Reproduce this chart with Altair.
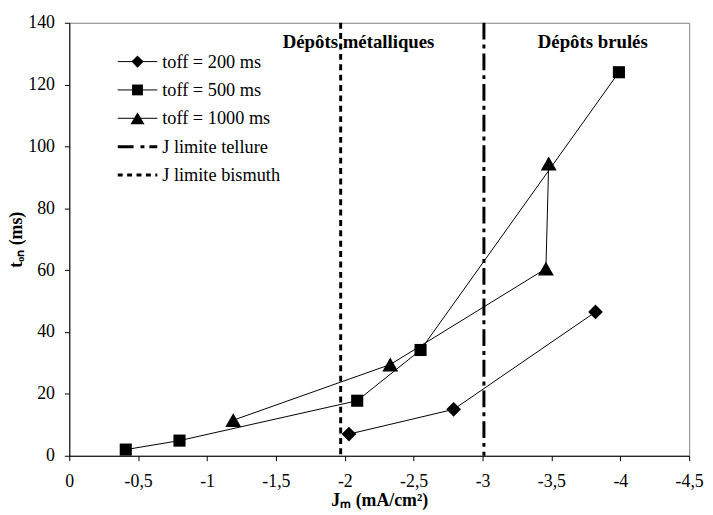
import altair as alt
import pandas as pd

# ---- data ----
series_labels = ["toff = 200 ms", "toff = 500 ms", "toff = 1000 ms"]
limit_labels = ["J limite tellure", "J limite bismuth"]

x_200 = [-2.03, -2.79, -3.82]
y_200 = [7.0, 15.0, 46.5]
x_500 = [-0.41, -0.80, -2.09, -2.55, -3.99]
y_500 = [2.0, 4.9, 17.8, 34.2, 124.0]
x_1000 = [-1.19, -2.33, -3.46, -3.48]
y_1000 = [11.5, 29.5, 60.5, 94.5]

j_tellure = -3.01
j_bismuth = -1.97

zone_labels = ["Dépôts métalliques", "Dépôts brulés"]
zone_x = [-2.10, -3.80]
zone_y = [133.8, 133.8]

x_ticks = [0, -0.5, -1, -1.5, -2, -2.5, -3, -3.5, -4, -4.5]
y_ticks = [0, 20, 40, 60, 80, 100, 120, 140]

# ---- tables ----
rows = []
for lab, xs, ys in zip(series_labels, [x_200, x_500, x_1000], [y_200, y_500, y_1000]):
    for i, (xv, yv) in enumerate(zip(xs, ys)):
        rows.append({"series": lab, "x": xv, "y": yv, "idx": i})
df = pd.DataFrame(rows)

df_zone = pd.DataFrame({"label": zone_labels, "x": zone_x, "y": zone_y})
legend_labels = series_labels + limit_labels
df_leg = pd.DataFrame({"label": legend_labels})
df_leg_series = pd.DataFrame({"label": series_labels})
df_leg_limits = pd.DataFrame({"label": limit_labels})

FONT = "Liberation Serif, Times New Roman, serif"
shapes = ["diamond", "square", "triangle-up"]
plot_sizes = [220, 150, 260]
leg_sizes = [150, 120, 200]

xscale = alt.Scale(domain=[0, -4.5], nice=False, zero=False)
yscale = alt.Scale(domain=[0, 140], nice=False)

base = alt.Chart(df)

lines = base.mark_line(color="black", strokeWidth=1).encode(
    x=alt.X("x:Q", scale=xscale,
            axis=alt.Axis(values=x_ticks, title="Jₘ (mA/cm²)",
                          labelExpr="replace(toString(datum.value), '.', ',')")),
    y=alt.Y("y:Q", scale=yscale, axis=alt.Axis(values=y_ticks, title="tₒₙ (ms)")),
    detail="series:N",
    order="idx:Q",
)

point_layers = []
for lab, shp, sz in zip(series_labels, shapes, plot_sizes):
    point_layers.append(
        base.transform_filter(alt.datum.series == lab)
        .mark_point(filled=True, color="black", opacity=1, shape=shp, size=sz)
        .encode(x=alt.X("x:Q", scale=xscale), y=alt.Y("y:Q", scale=yscale))
    )

rule_tel = alt.Chart(pd.DataFrame({"x": [j_tellure]})).mark_rule(
    color="black", strokeWidth=3, strokeDash=[17, 5, 4, 5]
).encode(x=alt.X("x:Q", scale=xscale))

rule_bis = alt.Chart(pd.DataFrame({"x": [j_bismuth]})).mark_rule(
    color="black", strokeWidth=3, strokeDash=[6, 4.5]
).encode(x=alt.X("x:Q", scale=xscale))

zones = alt.Chart(df_zone).mark_text(
    font=FONT, fontSize=19, fontWeight="bold", color="black", baseline="middle", align="center"
).encode(
    x=alt.X("x:Q", scale=xscale), y=alt.Y("y:Q", scale=yscale), text="label:N"
)

# ---- legend (drawn with its own row scale) ----
row_scale = alt.Scale(type="point", domain=legend_labels, range=[39.3, 154], padding=0)

leg_lines = alt.Chart(df_leg_series).mark_rule(color="black", strokeWidth=1).encode(
    x=alt.value(49), x2=alt.value(89),
    y=alt.Y("label:N", scale=row_scale, axis=None),
)
leg_limits = alt.Chart(df_leg_limits).mark_rule(color="black", strokeWidth=3).encode(
    x=alt.value(49), x2=alt.value(89),
    y=alt.Y("label:N", scale=row_scale, axis=None),
    strokeDash=alt.StrokeDash("label:N", scale=alt.Scale(domain=limit_labels, range=[[16, 7, 4, 5], [5, 4.5]]), legend=None),
)
leg_pt_layers = []
for lab, shp, sz in zip(series_labels, shapes, leg_sizes):
    leg_pt_layers.append(
        alt.Chart(df_leg_series).transform_filter(alt.datum.label == lab)
        .mark_point(filled=True, color="black", opacity=1, shape=shp, size=sz)
        .encode(x=alt.value(69), y=alt.Y("label:N", scale=row_scale, axis=None))
    )
leg_text = alt.Chart(df_leg).mark_text(
    font=FONT, fontSize=18.5, color="black", align="left", baseline="middle"
).encode(
    x=alt.value(94),
    y=alt.Y("label:N", scale=row_scale, axis=None),
    text="label:N",
)

main = alt.layer(rule_bis, rule_tel, lines, *point_layers, zones)
leg = alt.layer(leg_lines, leg_limits, *leg_pt_layers, leg_text)

chart = alt.layer(main, leg).resolve_scale(
    y="independent", strokeDash="independent"
).properties(
    width=627, height=438,
    background="white",
    autosize=alt.AutoSizeParams(type="none"),
    padding={"left": 62, "top": 12, "right": 16, "bottom": 57},
).configure_view(
    stroke="#808080", strokeWidth=1
).configure_axis(
    grid=False, domainColor="black", domainWidth=1, tickColor="black", tickSize=5,
    labelFont=FONT, labelFontSize=18, labelColor="black",
    titleFont=FONT, titleFontSize=18, titleFontWeight="bold", titleColor="black",
).configure_axisX(
    labelPadding=12, titlePadding=1, labelFlush=False
).configure_axisY(
    labelPadding=10, titlePadding=2
)

chart.save("out.html", embed_options={"renderer": "svg", "actions": False})
